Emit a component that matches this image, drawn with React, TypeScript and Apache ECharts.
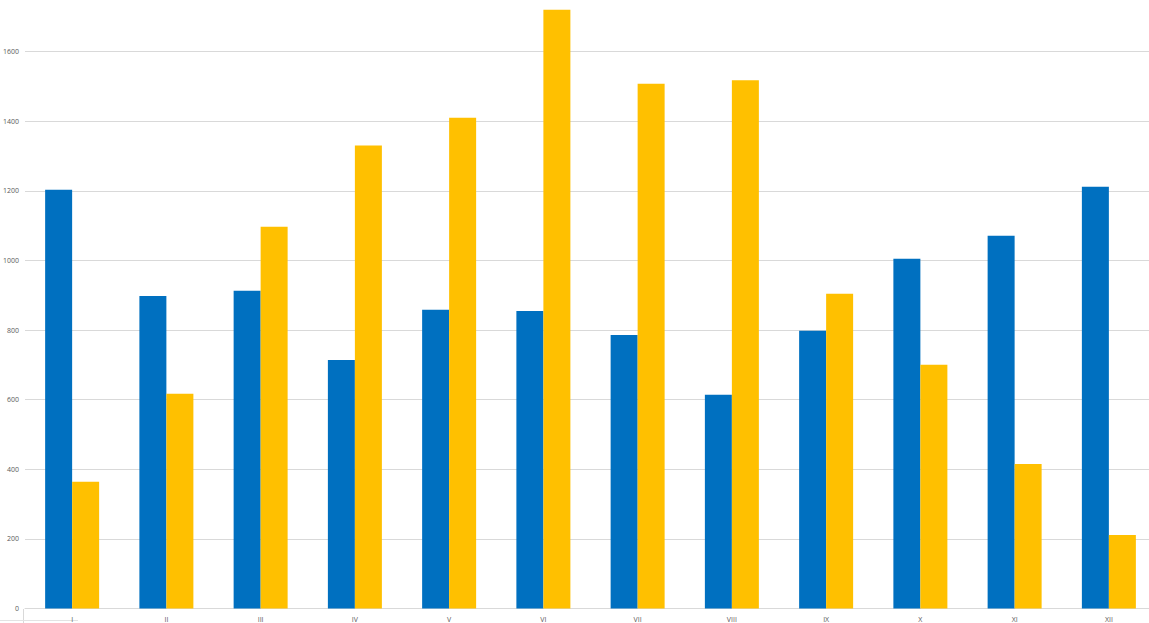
import React, { useEffect, useRef } from "react";
import * as echarts from "echarts";

const categories = ["I", "II", "III", "IV", "V", "VI", "VII", "VIII", "IX", "X", "XI", "XII"];
const blueValues = [1203, 898, 913, 714, 858, 855, 786, 614, 798, 1005, 1071, 1212];
const yellowValues = [364, 617, 1097, 1330, 1410, 1720, 1508, 1518, 904, 700, 415, 211];

export default function App() {
  const ref = useRef<HTMLDivElement>(null);
  useEffect(() => {
    document.body.style.margin = "0";
    document.body.style.overflow = "hidden";
    const chart = echarts.init(ref.current!, null, { renderer: "svg" });
    chart.setOption({
      animation: false,
      backgroundColor: "#ffffff",
      grid: { left: 23, width: 1133, top: 0, bottom: 14.5, containLabel: false },
      xAxis: {
        type: "category",
        data: categories,
        axisLine: { show: true, lineStyle: { color: "#d9d9d9", width: 1 } },
        axisTick: { show: false },
        axisLabel: { color: "#595959", fontSize: 7, margin: 7, fontFamily: "Open Sans" },
      },
      yAxis: {
        type: "value",
        min: 0,
        max: 1800,
        interval: 200,
        axisLine: { show: false },
        axisTick: { show: false },
        splitLine: { lineStyle: { color: "#d9d9d9", width: 1 } },
        axisLabel: {
          color: "#595959",
          fontSize: 7,
          margin: 6,
          fontFamily: "Open Sans",
          showMaxLabel: false,
          formatter: (v: number) => (v >= 1800 ? "" : String(v)),
        },
      },
      graphic: [
        {
          type: "line",
          shape: { x1: 23.5, y1: 627, x2: 23.5, y2: 641 },
          style: { stroke: "#d9d9d9", lineWidth: 1 },
          silent: true,
        },
        {
          type: "line",
          shape: { x1: 0, y1: 638.5, x2: 78, y2: 638.5 },
          style: { stroke: "#e3e3e3", lineWidth: 1 },
          silent: true,
        },
      ],
      series: [
        {
          type: "bar",
          data: blueValues,
          barWidth: 27,
          barGap: "0%",
          itemStyle: { color: "#0070C0" },
        },
        {
          type: "bar",
          data: yellowValues,
          barWidth: 27,
          barGap: "0%",
          itemStyle: { color: "#FFC000" },
        },
      ],
    });
    return () => chart.dispose();
  }, []);
  return (
    <div
      ref={ref}
      style={{ position: "absolute", left: 0, top: -18, width: 1160, height: 641 }}
    />
  );
}
